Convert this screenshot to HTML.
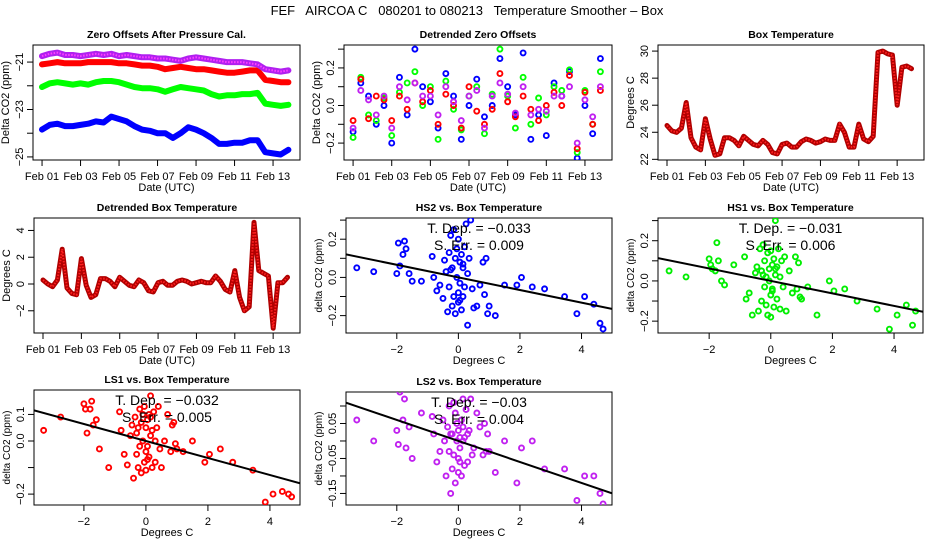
<!DOCTYPE html>
<html><head><meta charset="utf-8"><style>
html,body{margin:0;padding:0;background:#fff}
svg{display:block;font-family:"Liberation Sans",sans-serif}
</style></head><body>
<svg id="c" width="936" height="540" viewBox="0 0 936 540" xmlns="http://www.w3.org/2000/svg">
<text x="467" y="15" font-size="13" text-anchor="middle" xml:space="preserve">FEF   AIRCOA C   080201 to 080213   Temperature Smoother – Box</text>
</svg>
<script>
// ---- data ----
const days = [0,0.4,0.8,1.2,1.6,2.0,2.4,2.8,3.2,3.6,4.0,4.4,4.8,5.2,5.6,6.0,6.4,6.8,7.2,7.6,8.0,8.4,8.8,9.2,9.6,10.0,10.4,10.8,11.2,11.6,12.0,12.4,12.8];
const zeroPurple = [-20.75,-20.65,-20.6,-20.7,-20.7,-20.75,-20.7,-20.65,-20.7,-20.65,-20.75,-20.7,-20.75,-20.8,-20.8,-20.85,-20.85,-20.9,-20.95,-20.85,-20.8,-20.85,-20.9,-20.95,-21.0,-21.0,-21.0,-21.05,-21.1,-21.3,-21.35,-21.4,-21.35];
const zeroRed = [-21.1,-21.05,-21.0,-21.05,-21.05,-21.05,-21.0,-21.0,-21.0,-21.0,-21.05,-21.05,-21.1,-21.15,-21.15,-21.2,-21.3,-21.25,-21.2,-21.25,-21.3,-21.3,-21.35,-21.4,-21.45,-21.45,-21.4,-21.35,-21.35,-21.75,-21.8,-21.85,-21.85];
const zeroGreen = [-22.05,-21.9,-21.85,-21.9,-21.95,-21.9,-21.95,-21.85,-21.8,-21.8,-21.85,-21.95,-22.05,-22.1,-22.1,-22.15,-22.25,-22.15,-22.05,-22.1,-22.15,-22.2,-22.35,-22.45,-22.4,-22.4,-22.35,-22.35,-22.3,-22.75,-22.8,-22.85,-22.8];
const zeroBlue = [-23.85,-23.65,-23.6,-23.7,-23.7,-23.65,-23.6,-23.5,-23.55,-23.3,-23.4,-23.5,-23.7,-23.85,-23.9,-24.0,-24.0,-24.2,-24.0,-23.75,-23.85,-24.0,-24.2,-24.45,-24.45,-24.4,-24.4,-24.3,-24.3,-24.8,-24.85,-24.9,-24.7];
const detBlue = [-0.14,0.12,0.05,-0.1,0.0,-0.2,0.15,-0.05,0.3,0.1,0.02,-0.12,0.17,0.05,-0.18,0.0,0.14,-0.06,0.0,0.25,0.1,-0.05,0.28,-0.18,-0.05,-0.16,0.12,0.05,0.18,-0.28,0.0,-0.15,0.25];
const detGreen = [-0.17,0.15,-0.05,-0.08,0.04,-0.16,0.07,0.12,0.18,0.0,0.1,-0.18,0.13,-0.02,-0.13,0.05,0.1,-0.15,0.06,0.3,0.05,-0.12,0.15,-0.1,0.04,-0.05,0.1,0.08,0.19,-0.25,0.08,-0.1,0.18];
const detRed = [-0.08,0.14,-0.07,0.05,0.03,-0.08,0.05,-0.02,0.12,0.02,0.08,-0.1,0.06,0.0,-0.12,0.1,-0.03,-0.1,-0.02,0.17,0.02,-0.06,0.05,-0.02,-0.08,0.0,0.07,0.0,0.16,-0.23,0.07,-0.1,0.08];
const detPurple = [-0.12,0.08,0.03,-0.05,0.05,-0.12,0.1,0.03,0.12,0.05,0.05,-0.05,0.1,0.02,-0.08,0.05,0.08,-0.12,0.05,0.12,0.06,-0.04,0.1,-0.05,-0.02,-0.03,0.05,0.05,0.1,-0.2,0.03,-0.06,0.1];
const tDays = [0,0.25,0.5,0.75,1.0,1.25,1.5,1.75,2.0,2.25,2.5,2.75,3.0,3.25,3.5,3.75,4.0,4.25,4.5,4.75,5.0,5.25,5.5,5.75,6.0,6.25,6.5,6.75,7.0,7.25,7.5,7.75,8.0,8.25,8.5,8.75,9.0,9.25,9.5,9.75,10.0,10.25,10.5,10.75,11.0,11.25,11.5,11.75,12.0,12.25,12.5,12.75];
const boxTemp = [24.5,24.1,24.0,24.3,26.2,23.6,22.9,22.7,25.0,23.5,22.3,22.4,23.6,23.6,23.4,23.0,23.7,23.4,23.1,23.0,23.4,23.1,22.5,22.4,23.1,23.2,22.9,22.9,23.3,23.5,23.4,23.2,23.3,23.5,23.4,23.4,24.6,24.0,22.9,22.9,24.6,23.5,23.3,23.7,29.9,30.0,29.8,29.7,26.0,28.8,28.9,28.7];
const boxDetr = [0.3,0.0,-0.2,0.3,2.6,-0.3,-0.7,-0.8,1.9,-0.1,-1.0,-0.8,0.4,0.4,0.2,-0.2,0.5,0.2,-0.1,-0.2,0.3,0.1,-0.5,-0.6,0.1,0.2,-0.1,-0.1,0.2,0.3,0.2,0.0,0.1,0.2,0.1,0.1,0.6,0.2,-0.4,-0.6,1.0,-1.0,-2.0,-1.7,4.6,1.0,0.8,0.6,-3.3,0.1,0.1,0.5];
const temps = [-3.3,-2.75,-2.0,-1.95,-1.9,-1.8,-1.75,-1.7,-1.6,-1.5,-1.2,-0.85,-0.8,-0.7,-0.6,-0.5,-0.45,-0.4,-0.35,-0.3,-0.3,-0.25,-0.2,-0.2,-0.15,-0.15,-0.1,-0.1,-0.05,-0.05,0,0,0,0.05,0.05,0.1,0.1,0.15,0.15,0.2,0.2,0.25,0.3,0.3,0.35,0.4,0.45,0.5,0.6,0.7,0.8,0.85,0.9,0.95,1.0,1.2,1.5,1.9,2.05,2.4,2.8,3.45,3.85,4.1,4.4,4.6,4.7,-0.25,0.05,0.15];
const hs2 = [0.05,0.03,0.02,0.18,0.06,0.12,0.19,0.15,0.02,-0.02,-0.02,0.11,0.0,-0.07,-0.04,-0.11,0.09,0.03,-0.18,0.13,-0.05,0.22,-0.15,0.05,0.25,-0.1,0.1,-0.19,0.0,0.15,-0.08,0.2,-0.13,0.08,-0.03,0.12,-0.17,0.05,-0.1,0.16,-0.05,0.28,-0.25,0.02,0.1,0.3,-0.06,-0.16,-0.15,-0.04,0.08,-0.09,0.1,-0.19,-0.15,-0.2,-0.04,-0.04,0.0,-0.05,-0.06,-0.1,-0.19,-0.1,-0.14,-0.24,-0.27,0.04,-0.12,0.07];
const hs1 = [0.05,0.02,0.11,0.08,0.06,0.05,0.19,0.1,0.0,-0.02,0.08,0.12,-0.09,-0.06,-0.17,0.04,0.07,-0.15,0.16,-0.1,0.05,0.18,-0.03,0.1,-0.12,0.02,0.14,-0.17,0.0,0.06,-0.07,0.15,-0.18,0.08,-0.04,0.11,-0.13,0.03,0.3,-0.09,0.07,0.16,-0.14,0.02,0.1,-0.03,0.12,-0.15,0.05,-0.06,0.12,-0.04,0.09,-0.08,-0.09,-0.03,-0.17,0.0,-0.05,-0.04,-0.1,-0.14,-0.24,-0.17,-0.12,-0.22,-0.15,0.03,-0.05,0.06];
const ls1 = [0.04,0.09,0.14,0.12,0.03,0.12,0.15,0.06,0.08,-0.03,-0.1,0.11,0.04,-0.05,-0.09,0.02,0.06,-0.14,0.09,-0.05,0.03,-0.1,0.12,-0.02,0.07,-0.12,0.1,0.0,-0.08,0.13,-0.04,0.05,-0.11,0.08,-0.02,0.1,-0.06,0.02,0.17,-0.1,0.04,0.11,-0.08,0.0,0.05,0.13,-0.03,-0.1,0.0,0.1,-0.04,0.06,0.07,-0.01,-0.03,-0.04,0.0,-0.08,-0.05,-0.03,-0.08,-0.11,-0.23,-0.2,-0.19,-0.2,-0.21,0.05,-0.07,0.09];
const ls2 = [0.06,0.0,0.03,-0.01,0.14,0.06,0.12,-0.02,0.04,-0.05,0.08,0.07,0.02,-0.06,-0.03,0.06,0.0,-0.1,0.04,-0.03,0.1,-0.15,0.02,-0.08,0.11,-0.04,0.08,-0.12,0.0,0.05,-0.05,0.03,-0.09,0.01,-0.02,0.06,-0.1,0.04,0.12,-0.07,0.01,0.09,-0.06,0.02,0.03,0.12,-0.04,-0.02,0.08,0.04,-0.04,0.05,-0.03,0.02,-0.03,-0.09,0.0,-0.12,-0.02,0.0,-0.08,-0.08,-0.17,-0.1,-0.1,-0.15,-0.18,0.02,-0.06,0.0];
const slopes = [-0.033,-0.031,-0.032,-0.03];
const stdErrs = ["0.009","0.006","0.005","0.004"];
const dateTicks = [0,2,4,6,8,10,12];
const dateLabels = ["Feb 01","Feb 03","Feb 05","Feb 07","Feb 09","Feb 11","Feb 13"];
const degTicks = [-2,0,2,4];

const svg = document.getElementById('c');
const NS = 'http://www.w3.org/2000/svg';
function mk(tag, attrs, parent){ const e=document.createElementNS(NS,tag); for(const k in attrs) e.setAttribute(k,attrs[k]); (parent||svg).appendChild(e); return e; }

function panel(o){
  const g = mk('g',{});
  
  
  const sx = v => o.x0 + (v-o.xd[0])/(o.xd[1]-o.xd[0])*(o.x1-o.x0);
  const sy = v => o.y1 - (v-o.yd[0])/(o.yd[1]-o.yd[0])*(o.y1-o.y0);
  const t = mk('text',{x:(o.x0+o.x1)/2,y:o.y0-7,'font-size':10.5,'font-weight':'bold','text-anchor':'middle'},g);
  t.textContent = o.title;
  
  
  const box = mk('rect',{x:o.x0,y:o.y0,width:o.x1-o.x0,height:o.y1-o.y0,fill:'none',stroke:'#000','stroke-width':1},g);
  
  
  o.xticks.forEach((v,i)=>{
    const x=sx(v);
    mk('line',{x1:x,x2:x,y1:o.y1,y2:o.y1+6,stroke:'#000'},g);
    const l=mk('text',{x:x,y:o.y1+20,'font-size':11,'text-anchor':'middle'},g);
    l.textContent=o.xlabels[i];
    
    
  });
  o.yticks.forEach((v,i)=>{
    const y=sy(v);
    mk('line',{x1:o.x0-6,x2:o.x0,y1:y,y2:y,stroke:'#000'},g);
    if(o.ylabels[i]!==''){
      const l=mk('text',{x:0,y:0,'font-size':11,'text-anchor':'middle',transform:`translate(${o.x0-10},${y}) rotate(-90)`},g);
      l.textContent=o.ylabels[i];
      
      
    }
  });
  const xl=mk('text',{x:(o.x0+o.x1)/2,y:o.y1+31,'font-size':11,'text-anchor':'middle'},g);
  xl.textContent=o.xlab;
  
  
  const yl=mk('text',{x:0,y:0,'font-size':o.ylabSize||11,'text-anchor':'middle',transform:`translate(${o.x0-24},${(o.y0+o.y1)/2}) rotate(-90)`},g);
  yl.textContent=o.ylab;
  
  
  const clip = 'clip-'+o.name;
  const cp = mk('clipPath',{id:clip},g);
  mk('rect',{x:o.x0,y:o.y0,width:o.x1-o.x0,height:o.y1-o.y0},cp);
  const inner = mk('g',{'clip-path':`url(#${clip})`},g);
  return {g,inner,sx,sy};
}
function line(p, xs, ys, col, w, name, overlay){
  const pts = xs.map((x,i)=>p.sx(x).toFixed(1)+','+p.sy(ys[i]).toFixed(1)).join(' ');
  const pl = mk('polyline',{points:pts,fill:'none',stroke:col,'stroke-width':w,'stroke-linejoin':'round','stroke-linecap':'round'},p.inner);
  
  
  if(overlay){ mk('polyline',{points:pts,fill:'none',stroke:overlay,'stroke-width':2,'stroke-dasharray':'1.5 1.5'},p.inner); }
}
function points(p, xs, ys, col, name){
  const n=Math.min(xs.length,ys.length);
  for(let i=0;i<n;i++){
    const c=mk('circle',{cx:p.sx(xs[i]),cy:p.sy(ys[i]),r:2.5,fill:'none',stroke:col,'stroke-width':1.9},p.inner);
    
    
  }
}
function fit(p, k, se, xd){
  const l=mk('line',{x1:p.sx(xd[0]),y1:p.sy(k*xd[0]),x2:p.sx(xd[1]),y2:p.sy(k*xd[1]),stroke:'#000','stroke-width':2},p.inner);
  
  
}
function stats(o, k, se){
  const cx=(o.x0+o.x1)/2;
  const a=mk('text',{x:cx,y:o.y0+15,'font-size':14,'text-anchor':'middle','xml:space':'preserve'});
  a.textContent='T. Dep. =  '+String(k).replace('-','\u2212');
  
  
  const b=mk('text',{x:cx,y:o.y0+32,'font-size':14,'text-anchor':'middle','xml:space':'preserve'});
  b.textContent='S. Err. =  '+se;
  
  
}

const tx=[-0.47,13.4];
let o1={name:'zero-offsets-panel',title:'Zero Offsets After Pressure Cal.',x0:33,x1:300,y0:45,y1:160,xd:tx,yd:[-25.13,-20.28],xticks:dateTicks,xlabels:dateLabels,yticks:[-25,-24,-23,-22,-21],ylabels:['\u221225','','\u221223','','\u221221'],xlab:'Date (UTC)',ylab:'Delta CO2 (ppm)'};
let p=panel(o1);
line(p,days,zeroBlue,'#0000ff',6,'series-hs2');
line(p,days,zeroGreen,'#00ff00',6,'series-hs1');
line(p,days,zeroRed,'#ff0000',6,'series-ls1');
line(p,days,zeroPurple,'#b020f0',6,'series-ls2','#ff40ff');
let o2={name:'detrended-zero-panel',title:'Detrended Zero Offsets',x0:344,x1:612,y0:45,y1:160,xd:tx,yd:[-0.29,0.322],xticks:dateTicks,xlabels:dateLabels,yticks:[-0.2,-0.1,0,0.1,0.2,0.3],ylabels:['\u22120.2','','0.0','','0.2',''],xlab:'Date (UTC)',ylab:'Delta CO2 (ppm)'};
p=panel(o2);
points(p,days,detBlue,'#0000ff','point-hs2');
points(p,days,detGreen,'#00ff00','point-hs1');
points(p,days,detRed,'#ff0000','point-ls1');
points(p,days,detPurple,'#c020f0','point-ls2');
let o3={name:'box-temperature-panel',title:'Box Temperature',x0:658,x1:924,y0:45,y1:160,xd:tx,yd:[21.95,30.45],xticks:dateTicks,xlabels:dateLabels,yticks:[22,24,26,28,30],ylabels:['22','24','26','28','30'],xlab:'Date (UTC)',ylab:'Degrees C'};
p=panel(o3);
line(p,tDays,boxTemp,'#b00000',5,'series-box-temp','#ff2020');
let o4={name:'detrended-box-temp-panel',title:'Detrended Box Temperature',x0:34,x1:300,y0:218,y1:333,xd:tx,yd:[-3.66,4.93],xticks:dateTicks,xlabels:dateLabels,yticks:[-2,0,2,4],ylabels:['\u22122','0','2','4'],xlab:'Date (UTC)',ylab:'Degrees C'};
p=panel(o4);
line(p,tDays,boxDetr,'#b00000',5,'series-detrended-temp','#ff2020');
const sc=[
 {name:'hs2-scatter-panel',title:'HS2 vs. Box Temperature',x0:346,x1:612,y0:218,y1:333,xd:[-3.65,4.99],yd:[-0.291,0.311],yticks:[-0.2,-0.1,0,0.1,0.2,0.3],ylabels:['\u22120.2','','0.0','','0.2',''],ys:hs2,col:'#0000ff'},
 {name:'hs1-scatter-panel',title:'HS1 vs. Box Temperature',x0:658,x1:923,y0:218,y1:333,xd:[-3.66,4.94],yd:[-0.259,0.313],yticks:[-0.2,-0.1,0,0.1,0.2,0.3],ylabels:['\u22120.2','','0.0','','0.2',''],ys:hs1,col:'#00ee00'},
 {name:'ls1-scatter-panel',title:'LS1 vs. Box Temperature',x0:34,x1:300,y0:390,y1:505,xd:[-3.61,4.97],yd:[-0.241,0.192],yticks:[-0.2,-0.1,0,0.1],ylabels:['\u22120.2','','0.0','0.1'],ys:ls1,col:'#ff0000'},
 {name:'ls2-scatter-panel',title:'LS2 vs. Box Temperature',x0:346,x1:612,y0:392,y1:505,xd:[-3.65,4.99],yd:[-0.183,0.140],yticks:[-0.15,-0.1,-0.05,0,0.05,0.1],ylabels:['\u22120.15','','\u22120.05','','0.05',''],ys:ls2,col:'#c020f0'}
];
sc.forEach((s,i)=>{
  s.xticks=degTicks; s.xlabels=['\u22122','0','2','4']; s.xlab='Degrees C'; s.ylab='delta CO2 (ppm)'; s.ylabSize=10;
  const pp=panel(s);
  points(pp,temps,s.ys,s.col,'scatter-point');
  fit(pp,slopes[i],stdErrs[i],s.xd);
  stats(s,slopes[i],stdErrs[i]);
});
</script>
</body></html>
